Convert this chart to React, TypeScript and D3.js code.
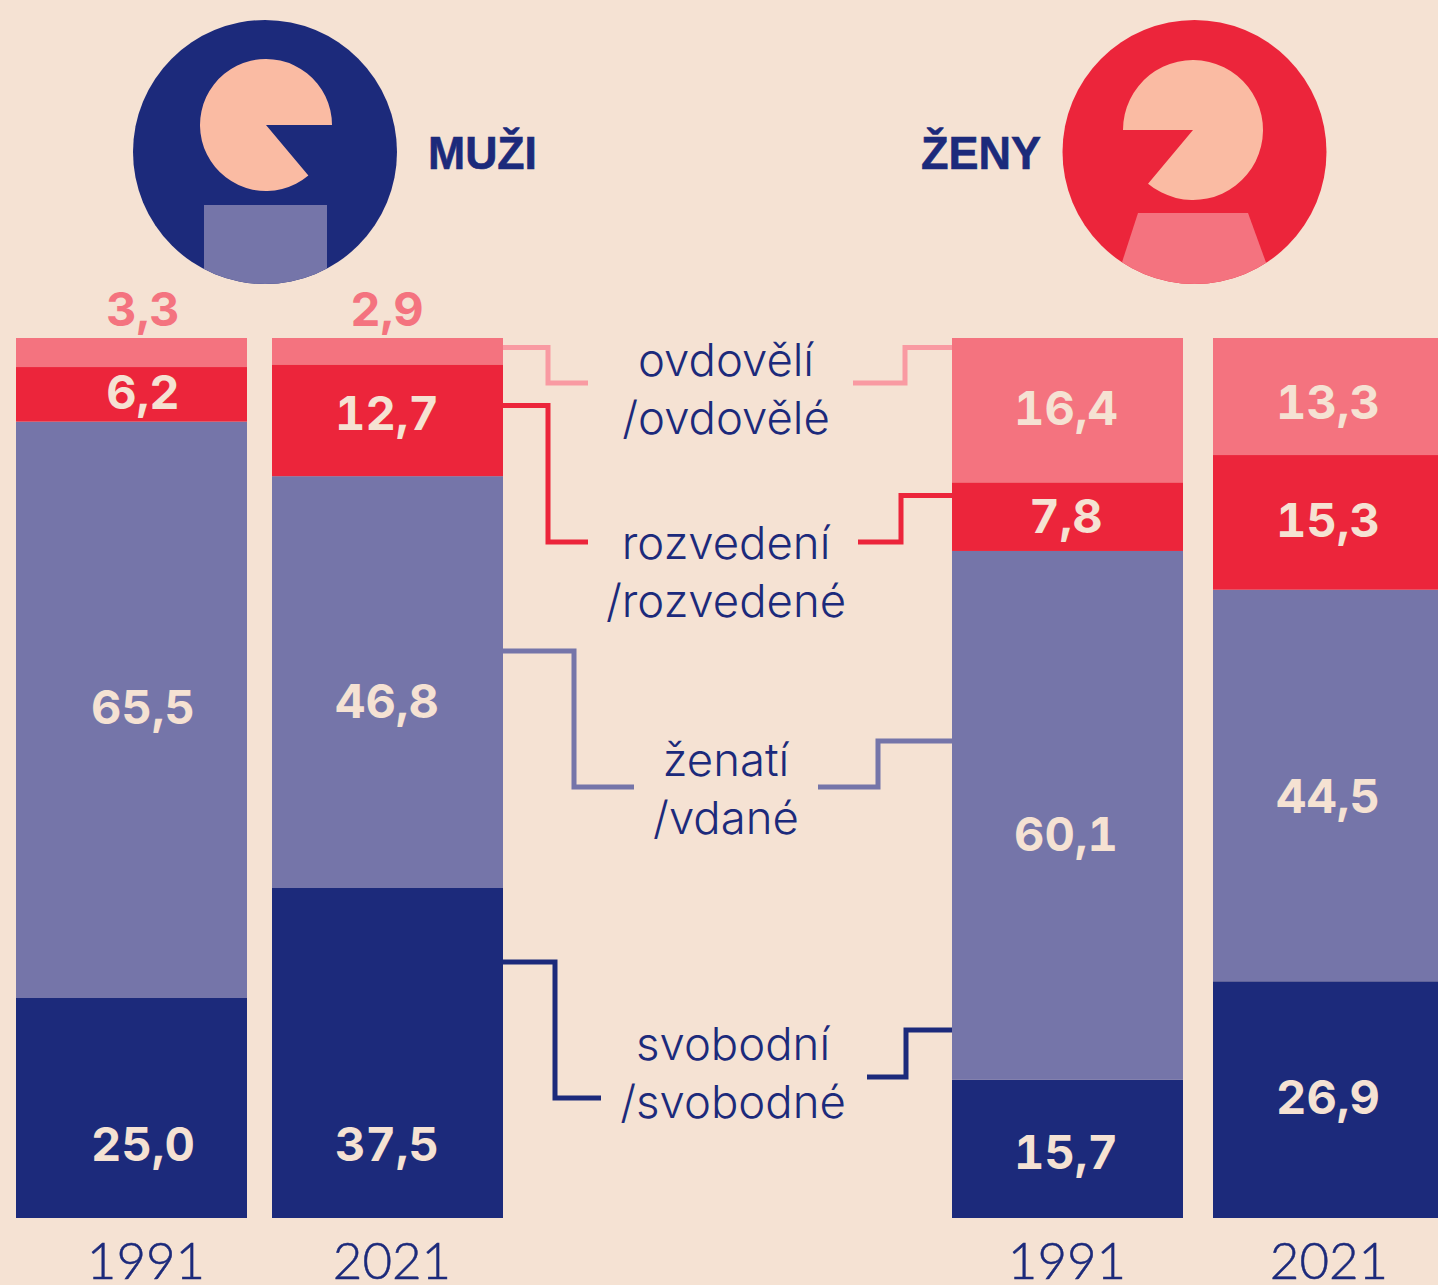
import React from "react";
import * as d3 from "d3";

const categories = ["svobodní", "ženatí", "rozvedení", "ovdovělí"];
const colors = ["#1c2a7b", "#7575a9", "#ec253b", "#f4737f"];
const lineColors = ["#1c2a7b", "#7575a9", "#ec253b", "#f99aa2"];
const men1991 = [25.0, 65.5, 6.2, 3.3];
const men2021 = [37.5, 46.8, 12.7, 2.9];
const women1991 = [15.7, 60.1, 7.8, 16.4];
const women2021 = [26.9, 44.5, 15.3, 13.3];
const years = ["1991", "2021", "1991", "2021"];
const legendTop = ["svobodní", "ženatí", "rozvedení", "ovdovělí"];
const legendBottom = ["/svobodné", "/vdané", "/rozvedené", "/ovdovělé"];

const BG = "#f5e2d3";
const NAVY = "#1c2a7b";
const CREAM = "#f5e2d3";
const PINK = "#f4737f";
const SKIN = "#fabba3";
const VALUE_FONT = "'Inter', sans-serif";
const LABEL_FONT = "'Inter', sans-serif";
const YEAR_FONT = "'Lato', sans-serif";
const TITLE_FONT = "'Liberation Sans', sans-serif";

const barLefts = [16, 272, 952, 1213];
const barWidth = 231;
const yearX = [146, 392, 1067, 1329];
const labelX = [143, 387, 1066, 1328];
// value label baselines, per bar, bottom segment first
const labelBaselines = [
  [1161, 724, 409, 326],
  [1161, 718, 430, 326],
  [1169, 851, 533, 425],
  [1114, 813, 537, 419],
];

const y = d3.scaleLinear().domain([0, 100]).range([1218, 338]);

function stack(values: number[]) {
  let acc = 0;
  return values.map((v) => {
    const s = { v, y0: acc, y1: acc + v };
    acc += v;
    return s;
  });
}

function fmt(v: number) {
  return v.toFixed(1).replace(".", ",");
}

const series = [men1991, men2021, women1991, women2021];

const connectorPaths = [
  { c: 3, d: "M503,347.5H548V383H588" },
  { c: 3, d: "M853,383H905V347.5H952" },
  { c: 2, d: "M503,405.5H548V542H588" },
  { c: 2, d: "M858,542H901V495.5H952" },
  { c: 1, d: "M503,651H574V787H634" },
  { c: 1, d: "M818,787H878V741H952" },
  { c: 0, d: "M503,962H555V1098H601" },
  { c: 0, d: "M867,1077H906V1030H952" },
];

const legendPos = [
  { x: 733, y1: 1060, y2: 1118 },
  { x: 726, y1: 776, y2: 834 },
  { x: 726, y1: 559, y2: 617 },
  { x: 726, y1: 376, y2: 434 },
];

const pieMen = d3.arc()({
  innerRadius: 0,
  outerRadius: 66,
  startAngle: Math.PI / 2 + Math.PI * 0.278,
  endAngle: Math.PI * 2 + Math.PI / 2,
}) as string;
const pieWomen = d3.arc()({
  innerRadius: 0,
  outerRadius: 70,
  startAngle: -Math.PI / 2,
  endAngle: Math.PI * 2 - Math.PI / 2 - Math.PI * 0.278,
}) as string;

export default function App() {
  return (
    <svg
      width={1438}
      height={1285}
      viewBox="0 0 1438 1285"
      style={{ position: "fixed", left: 0, top: 0, display: "block", background: BG }}
    >
      <rect width={1438} height={1285} fill={BG} />
      <defs>
        <clipPath id="cm"><circle cx={265} cy={152} r={132} /></clipPath>
        <clipPath id="cw"><circle cx={1194.5} cy={152} r={132} /></clipPath>
      </defs>

      <circle cx={265} cy={152} r={132} fill={NAVY} />
      <path d={pieMen} transform="translate(266,125)" fill={SKIN} />
      <rect x={204} y={205} width={123} height={90} fill={colors[1]} clipPath="url(#cm)" />
      <text x={428} y={169} fontFamily={TITLE_FONT} fontWeight={700} fontSize={47} fill={NAVY} textLength={109} lengthAdjust="spacingAndGlyphs" stroke={NAVY} strokeWidth={0.6}>MUŽI</text>

      <circle cx={1194.5} cy={152} r={132} fill={colors[2]} />
      <path d={pieWomen} transform="translate(1193,130)" fill={SKIN} />
      <path d="M1138,213H1248L1276,290H1113Z" fill={PINK} clipPath="url(#cw)" />
      <text x={921} y={169} fontFamily={TITLE_FONT} fontWeight={700} fontSize={47} fill={NAVY} textLength={120} lengthAdjust="spacingAndGlyphs" stroke={NAVY} strokeWidth={0.6}>ŽENY</text>

      {series.map((vals, i) => (
        <g key={i}>
          {stack(vals).map((s, j) => (
            <rect
              key={categories[j]}
              x={barLefts[i]}
              width={barWidth}
              y={j === 3 ? 338 : y(s.y1)}
              height={j === 3 ? y(s.y0) - 338 : y(s.y0) - y(s.y1)}
              fill={colors[j]}
            />
          ))}
          {stack(vals).map((s, j) => (
            <text
              key={categories[j]}
              x={labelX[i]}
              y={labelBaselines[i][j]}
              textAnchor="middle"
              fontFamily={VALUE_FONT}
              fontWeight={700}
              fontSize={47}
              fill={j === 3 && s.v < 5 ? PINK : CREAM}
              style={{ fontFeatureSettings: "'tnum'" }}
            >
              {fmt(s.v)}
            </text>
          ))}
          <text
            x={yearX[i]}
            y={1279}
            textAnchor="middle"
            fontFamily={YEAR_FONT}
            fontWeight={300}
            fontSize={51}
            fill={NAVY}
            stroke={NAVY}
            strokeWidth={0.5}
          >
            {years[i]}
          </text>
        </g>
      ))}

      {connectorPaths.map((p, i) => (
        <path key={i} d={p.d} fill="none" stroke={lineColors[p.c]} strokeWidth={5} />
      ))}

      {legendPos.map((p, i) => (
        <g key={i} fontFamily={LABEL_FONT} fontWeight={300} fontSize={45.5} fill={NAVY} textAnchor="middle">
          <text x={p.x} y={p.y1}>{legendTop[i]}</text>
          <text x={p.x} y={p.y2}>{legendBottom[i]}</text>
        </g>
      ))}
    </svg>
  );
}
